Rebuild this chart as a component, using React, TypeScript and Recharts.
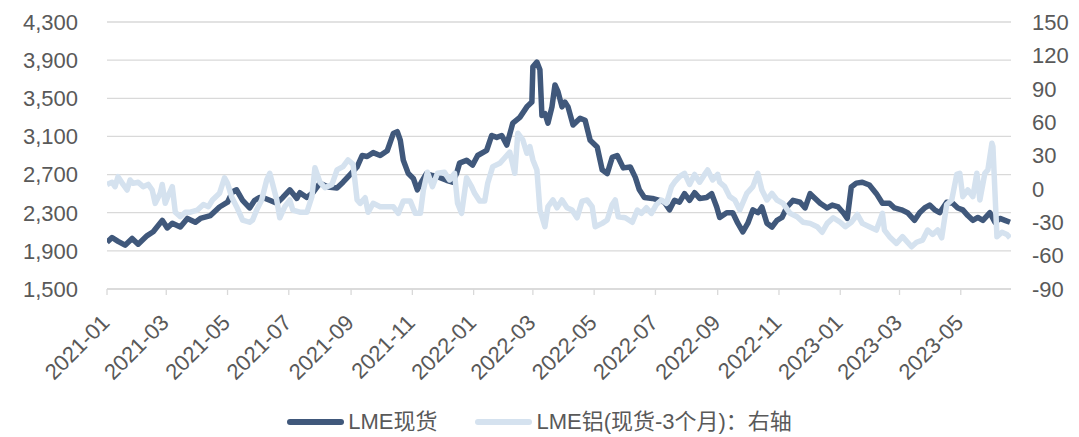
import React from 'react';
import {
  LineChart, Line,
  XAxis, YAxis,
  CartesianGrid, Legend,
} from 'recharts';

// day offsets from 2021-01-01
const SPOT_DAYS = [
  0, 5, 11, 18, 25, 31, 40, 46, 55, 60, 65, 73, 80, 88, 93, 103, 112, 120, 125, 129,
  135, 142, 147, 152, 155, 162, 169, 175, 182, 189, 192, 199, 205, 212, 220, 229, 235, 242, 249, 254,
  259, 265, 272, 279, 285, 289, 292, 295, 300, 305, 309, 314, 318, 324, 331, 338, 344, 348, 351, 358,
  364, 369, 378, 383, 388, 393, 398, 404, 411, 418, 423, 424, 428, 431, 433, 436, 439, 443, 446, 449,
  453, 456, 459, 464, 471, 476, 481, 488, 493, 498, 503, 508, 514, 521, 526, 530, 535, 543, 550, 555,
  560, 565, 570, 575, 580, 585, 590, 597, 602, 607, 610, 617, 623, 628, 633, 638, 643, 648, 652, 657,
  662, 667, 672, 677, 683, 690, 695, 700, 705, 710, 717, 722, 728, 733, 737, 741, 746, 752, 759, 766,
  772, 779, 784, 791, 797, 804, 809, 814, 819, 824, 829, 836, 842, 847, 852, 857, 862, 867, 872, 879,
  884, 889, 894, 899,
];
const SPOT_VALUES = [
  1990, 2040, 2000, 1960, 2030, 1970, 2060, 2100, 2220, 2140, 2190, 2150, 2240, 2200, 2240, 2270, 2360, 2410, 2520, 2540,
  2430, 2350, 2430, 2460, 2460, 2430, 2400, 2460, 2540, 2450, 2510, 2460, 2510, 2610, 2570, 2560, 2620, 2700, 2780, 2900,
  2890, 2930, 2900, 2950, 3130, 3150, 3060, 2850, 2710, 2660, 2540, 2640, 2710, 2690, 2670, 2640, 2620, 2710, 2820, 2850,
  2800, 2900, 2955, 3110, 3090, 3110, 3010, 3240, 3300, 3410, 3460, 3830, 3880, 3800, 3320, 3340, 3240, 3410, 3640, 3570,
  3410, 3460, 3410, 3220, 3290, 3270, 3060, 2990, 2750, 2710, 2880, 2900, 2770, 2780, 2670, 2540, 2460, 2450, 2430, 2410,
  2330, 2430, 2410, 2500, 2430, 2510, 2450, 2460, 2500, 2360, 2250, 2300, 2300, 2190, 2100, 2190, 2330, 2300, 2360, 2190,
  2150, 2220, 2250, 2360, 2430, 2410, 2350, 2500, 2450, 2400, 2350, 2380, 2360, 2300, 2240, 2570, 2610, 2620, 2590, 2500,
  2400, 2400, 2350, 2330, 2300, 2220, 2300, 2350, 2380, 2330, 2300, 2410, 2400, 2350, 2330, 2270, 2220, 2250, 2220, 2300,
  2200, 2240, 2220, 2200,
];

const SPREAD_DAYS = [
  0, 5, 8, 11, 16, 20, 23, 26, 31, 36, 41, 45, 48, 53, 55, 58, 61, 65, 68, 73,
  78, 83, 90, 96, 101, 105, 112, 117, 120, 124, 129, 135, 142, 145, 149, 154, 159, 162, 165, 169,
  172, 177, 182, 185, 192, 199, 204, 207, 212, 217, 224, 229, 235, 240, 245, 249, 252, 257, 260, 265,
  272, 279, 285, 290, 295, 302, 307, 312, 315, 319, 324, 329, 336, 341, 346, 349, 353, 358, 363, 366,
  371, 376, 379, 384, 391, 396, 401, 406, 409, 414, 418, 421, 424, 428, 431, 436, 439, 444, 448, 453,
  458, 463, 468, 473, 478, 483, 486, 493, 498, 503, 506, 509, 516, 523, 528, 532, 537, 542, 547, 552,
  557, 562, 565, 570, 575, 580, 585, 590, 595, 598, 603, 608, 610, 615, 620, 625, 630, 637, 643, 648,
  652, 657, 662, 667, 673, 680, 687, 693, 700, 707, 712, 717, 723, 730, 735, 741, 747, 752, 759, 766,
  772, 774, 779, 786, 792, 801, 806, 812, 817, 822, 827, 831, 836, 841, 846, 849, 852, 857, 862, 866,
  869, 874, 877, 881, 882, 886, 891, 896, 899,
];
const SPREAD_VALUES = [
  4, 6, 2, 11, 4, -1, 8, 5, 6, 2, 4, -1, -13, -4, 4, -13, -6, 2, -21, -25,
  -21, -21, -19, -14, -16, -10, -4, 10, 5, -7, -16, -28, -30, -28, -19, -10, 8, 14, 4, -10,
  -26, -16, -10, -19, -21, -21, -7, 19, 6, 1, 4, 17, 20, 26, 22, -10, -13, -8, -21, -13,
  -16, -16, -16, -22, -11, -11, -22, -22, -1, 15, 2, 14, 15, 8, 14, -13, -22, 10, 2, -4,
  -11, -11, 5, 20, 23, 28, 33, 14, 50, 44, 32, 38, 26, 17, -19, -34, -16, -10, -17, -10,
  -17, -19, -26, -11, -10, -16, -34, -31, -28, -14, -10, -25, -26, -30, -19, -22, -17, -22, -14, -10,
  -13, 2, 6, 11, 14, 4, 13, 6, 13, 17, 8, 13, 6, 2, -7, -10, -19, -4, 2, 14,
  -1, -10, -4, -10, -13, -22, -25, -30, -31, -34, -39, -31, -26, -30, -34, -30, -23, -31, -34, -37,
  -22, -37, -43, -49, -43, -52, -48, -46, -37, -41, -37, -44, -14, -10, 13, 14, -7, -1, -7, 14,
  -10, 14, 17, 41, 38, -43, -39, -41, -44,
];

const TICK_DAYS = [0, 59, 120, 181, 243, 304, 365, 424, 485, 546, 608, 669, 730, 789, 850];
const TICK_LABELS = [
  '2021-01', '2021-03', '2021-05', '2021-07', '2021-09', '2021-11',
  '2022-01', '2022-03', '2022-05', '2022-07', '2022-09', '2022-11',
  '2023-01', '2023-03', '2023-05',
];
const LEFT_TICKS = [1500, 1900, 2300, 2700, 3100, 3500, 3900, 4300];
const RIGHT_TICKS = [-90, -60, -30, 0, 30, 60, 90, 120, 150];

const SPOT_NAME = 'LME现货';
const SPREAD_NAME = 'LME铝(现货-3个月)：右轴';

const DARK = '#40587B';
const LIGHT = '#D5E2EF';
const TEXT = '#595959';
const GRID = '#D9D9D9';
const FONT = "'Liberation Sans', Arial, 'Noto Sans CJK SC', sans-serif";

type Row = { day: number; spot?: number; spread?: number };

function buildRows(): Row[] {
  const map = new Map<number, Row>();
  SPOT_DAYS.forEach((d, i) => {
    const r = map.get(d) ?? { day: d };
    r.spot = SPOT_VALUES[i];
    map.set(d, r);
  });
  SPREAD_DAYS.forEach((d, i) => {
    const r = map.get(d) ?? { day: d };
    r.spread = SPREAD_VALUES[i];
    map.set(d, r);
  });
  return [...map.values()].sort((a, b) => a.day - b.day);
}

const rows = buildRows();

function DateTick({ x, y, payload }: any) {
  const idx = TICK_DAYS.indexOf(payload.value);
  const px = x + 4;
  const py = y + 27;
  return (
    <text
      x={px} y={py}
      transform={`rotate(-45, ${px}, ${py})`}
      textAnchor="end"
      fill={TEXT}
      fontSize={22}
      fontFamily={FONT}
    >
      {idx >= 0 ? TICK_LABELS[idx] : ''}
    </text>
  );
}

function LegendBox() {
  const items = [
    { name: SPOT_NAME, color: DARK },
    { name: SPREAD_NAME, color: LIGHT },
  ];
  return (
    <div style={{
      display: 'flex',
      justifyContent: 'center',
      alignItems: 'center',
      height: 30,
      gap: 38,
      fontFamily: FONT,
      fontSize: 22,
      color: TEXT,
    }}>
      {items.map((it) => (
        <div key={it.name} style={{ display: 'flex', alignItems: 'center', gap: 4 }}>
          <span style={{
            display: 'inline-block', width: 57, height: 6,
            borderRadius: 3, background: it.color,
          }} />
          <span style={{ whiteSpace: 'nowrap', lineHeight: '30px' }}>{it.name}</span>
        </div>
      ))}
    </div>
  );
}

export default function App() {
  return (
    <div style={{ position: 'absolute', left: 0, top: 0, width: 1079, height: 437, background: '#fff' }}>
      <LineChart
        width={1079}
        height={437}
        data={rows}
        margin={{ top: 22, right: 0, bottom: 0, left: 0 }}
      >
        <CartesianGrid
          yAxisId="left"
          vertical={false}
          stroke={GRID}
          strokeWidth={1.3}
        />
        <XAxis
          dataKey="day"
          type="number"
          domain={[0, 900]}
          ticks={TICK_DAYS}
          interval={0}
          height={118}
          tick={<DateTick />}
          tickSize={6}
          stroke={GRID}
          strokeWidth={1.3}
          allowDataOverflow
        />
        <YAxis
          yAxisId="left"
          domain={[1500, 4300]}
          ticks={LEFT_TICKS}
          interval={0}
          width={107}
          axisLine={false}
          tickLine={false}
          tickMargin={23}
          tickFormatter={(v: number) => v.toLocaleString('en-US')}
          tick={{ fill: TEXT, fontSize: 22, fontFamily: FONT }}
        />
        <YAxis
          yAxisId="right"
          orientation="right"
          domain={[-90, 150]}
          ticks={RIGHT_TICKS}
          interval={0}
          width={68}
          axisLine={false}
          tickLine={false}
          tickMargin={15}
          tick={{ fill: TEXT, fontSize: 22, fontFamily: FONT, textAnchor: 'start' }}
        />
        <Legend verticalAlign="bottom" content={<LegendBox />} />
        <Line
          yAxisId="left"
          type="linear"
          dataKey="spot"
          name={SPOT_NAME}
          stroke={DARK}
          strokeWidth={5.5}
          strokeLinejoin="round"
          dot={false}
          connectNulls
          isAnimationActive={false}
        />
        <Line
          yAxisId="right"
          type="linear"
          dataKey="spread"
          name={SPREAD_NAME}
          stroke={LIGHT}
          strokeWidth={5.5}
          strokeLinejoin="round"
          dot={false}
          connectNulls
          isAnimationActive={false}
        />
      </LineChart>
    </div>
  );
}
